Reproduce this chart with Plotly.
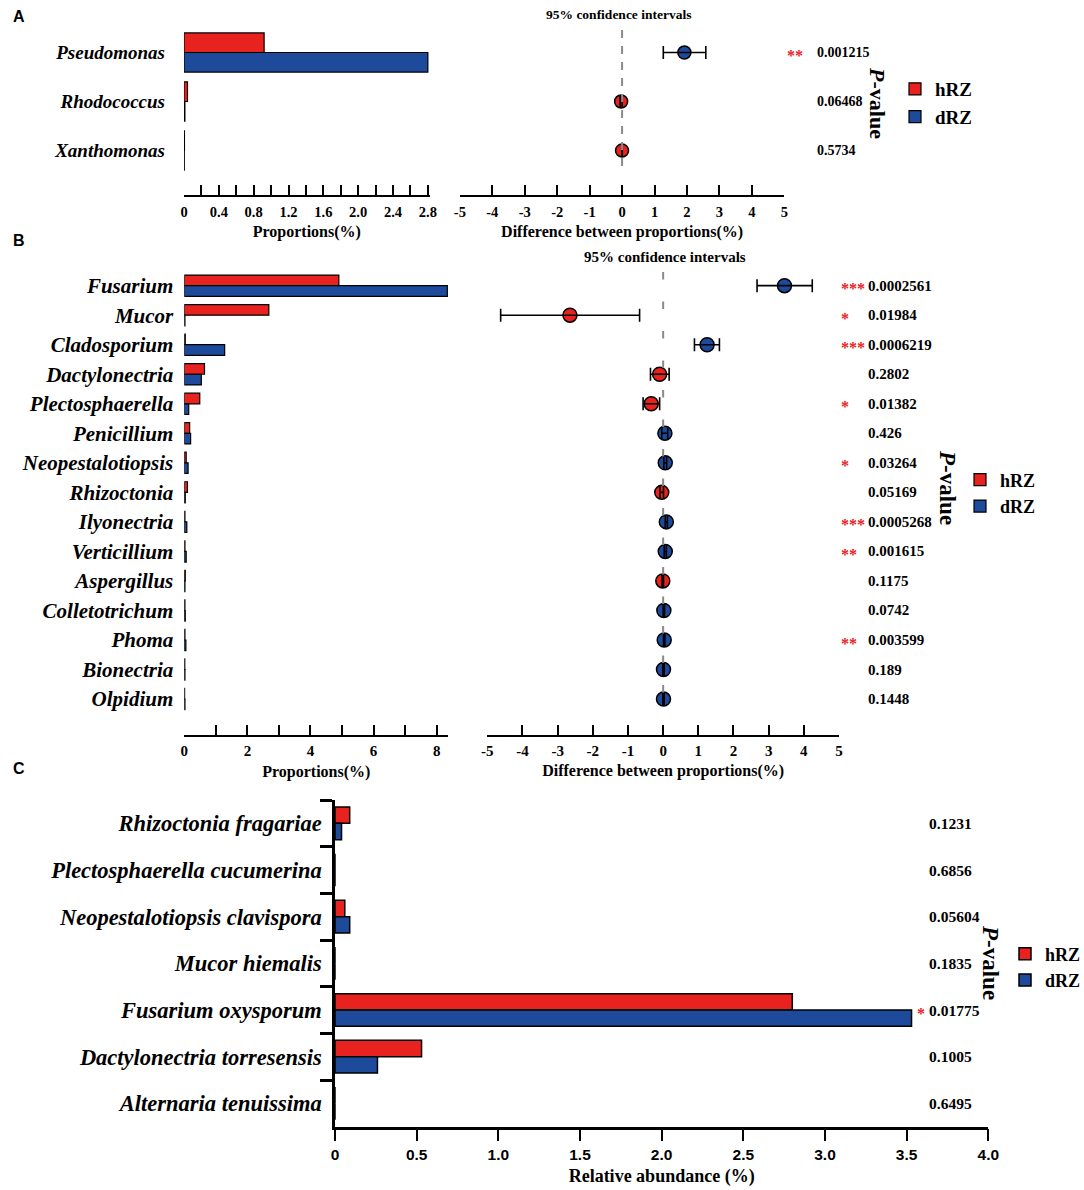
import plotly.graph_objects as go

# ---------------- data ----------------
genera_A = ["Pseudomonas", "Rhodococcus", "Xanthomonas"]
hRZ_A = [0.92, 0.04, 0.005]
dRZ_A = [2.80, 0.01, 0.003]
diff_A = [1.92, -0.03, -0.002]
ci_low_A = [1.27, -0.06, -0.01]
ci_high_A = [2.58, 0.0, 0.006]
p_A = ["0.001215", "0.06468", "0.5734"]
stars_A = ["**", "", ""]

genera_B = ["Fusarium", "Mucor", "Cladosporium", "Dactylonectria", "Plectosphaerella",
            "Penicillium", "Neopestalotiopsis", "Rhizoctonia", "Ilyonectria", "Verticillium",
            "Aspergillus", "Colletotrichum", "Phoma", "Bionectria", "Olpidium"]
hRZ_B = [4.90, 2.68, 0.03, 0.64, 0.49, 0.17, 0.06, 0.10, 0.02, 0.02, 0.03, 0.02, 0.02, 0.015, 0.01]
dRZ_B = [8.34, 0.02, 1.28, 0.54, 0.14, 0.20, 0.12, 0.03, 0.08, 0.06, 0.02, 0.03, 0.05, 0.02, 0.02]
diff_B = [3.45, -2.65, 1.25, -0.10, -0.34, 0.05, 0.06, -0.04, 0.09, 0.06, -0.01, 0.02, 0.03, 0.01, 0.01]
ci_low_B = [2.67, -4.62, 0.89, -0.36, -0.57, -0.04, 0.02, -0.09, 0.06, 0.03, -0.03, 0.0, 0.01, -0.01, -0.01]
ci_high_B = [4.24, -0.67, 1.60, 0.17, -0.10, 0.13, 0.10, 0.01, 0.12, 0.09, 0.01, 0.04, 0.05, 0.03, 0.03]
p_B = ["0.0002561", "0.01984", "0.0006219", "0.2802", "0.01382", "0.426", "0.03264", "0.05169",
       "0.0005268", "0.001615", "0.1175", "0.0742", "0.003599", "0.189", "0.1448"]
stars_B = ["***", "*", "***", "", "*", "", "*", "", "***", "**", "", "", "**", "", ""]

species_C = ["Rhizoctonia fragariae", "Plectosphaerella cucumerina", "Neopestalotiopsis clavispora",
             "Mucor hiemalis", "Fusarium oxysporum", "Dactylonectria torresensis", "Alternaria tenuissima"]
hRZ_C = [0.09, 0.0, 0.06, 0.0, 2.80, 0.53, 0.0]
dRZ_C = [0.04, 0.0, 0.09, 0.0, 3.53, 0.26, 0.0]
p_C = ["0.1231", "0.6856", "0.05604", "0.1835", "0.01775", "0.1005", "0.6495"]
stars_C = ["", "", "", "", "*", "", ""]

propA_tickvals = [0, 0.4, 0.8, 1.2, 1.6, 2.0, 2.4, 2.8]
propA_ticktext = ["0", "0.4", "0.8", "1.2", "1.6", "2.0", "2.4", "2.8"]
propB_tickvals = [0, 2, 4, 6, 8]
propB_ticktext = ["0", "2", "4", "6", "8"]
diff_tickvals = [-5, -4, -3, -2, -1, 0, 1, 2, 3, 4, 5]
diff_ticktext = ["-5", "-4", "-3", "-2", "-1", "0", "1", "2", "3", "4", "5"]
abund_tickvals = [0, 0.5, 1.0, 1.5, 2.0, 2.5, 3.0, 3.5, 4.0]
abund_ticktext = ["0", "0.5", "1.0", "1.5", "2.0", "2.5", "3.0", "3.5", "4.0"]

# ---------------- style ----------------
W, H = 1084, 1190
RED = "#E8221E"
BLUE = "#1E4A9C"
SERIF = "Liberation Serif"
SANS = "Liberation Sans"


def X(px):
    return px / W


def Y(py):
    return 1 - py / H


fig = go.Figure()


# ---- bars ----
def add_bars(cats, h, d, xa, ya, leg, w, lw):
    fig.add_trace(go.Bar(y=cats, x=h, orientation="h", name="hRZ", width=w, offset=-w,
                         marker=dict(color=RED, line=dict(color="black", width=lw)),
                         xaxis=xa, yaxis=ya, legend=leg, legendgroup=leg + "h"))
    fig.add_trace(go.Bar(y=cats, x=d, orientation="h", name="dRZ", width=w, offset=0,
                         marker=dict(color=BLUE, line=dict(color="black", width=lw)),
                         xaxis=xa, yaxis=ya, legend=leg, legendgroup=leg + "d"))


add_bars(genera_A, hRZ_A, dRZ_A, "x", "y", "legend", 0.4, 1.2)
add_bars(genera_B, hRZ_B, dRZ_B, "x3", "y2", "legend2", 0.36, 1.2)
add_bars(species_C, hRZ_C, dRZ_C, "x5", "y3", "legend3", 0.35, 1.5)


# ---- difference points with CI ----
def add_diff(cats, diff, lo, hi, xa, ya, size, cap):
    cols = [BLUE if v > 0 else RED for v in diff]
    plus = [b - v for v, b in zip(diff, hi)]
    minus = [v - a for v, a in zip(diff, lo)]
    fig.add_trace(go.Scatter(x=diff, y=cats, mode="markers", xaxis=xa, yaxis=ya, showlegend=False,
                             marker=dict(size=size, color=cols, line=dict(color="black", width=1.5))))
    fig.add_trace(go.Scatter(x=diff, y=cats, mode="markers", xaxis=xa, yaxis=ya, showlegend=False,
                             marker=dict(size=1, color="rgba(0,0,0,0)"),
                             error_x=dict(type="data", symmetric=False, array=plus, arrayminus=minus,
                                          color="black", thickness=1.6, width=cap)))


add_diff(genera_A, diff_A, ci_low_A, ci_high_A, "x2", "y", 13, 6.5)
add_diff(genera_B, diff_B, ci_low_B, ci_high_B, "x4", "y2", 14, 6.5)

# ---- axes ----
tick_serif = dict(family=SERIF, size=15, color="black", weight="bold")
title_serif = dict(family=SERIF, size=16, color="black", weight="bold")


def lin_axis(domain, rng, anchor, tv, tt, title, ticks="inside", minor=None, tfont=tick_serif,
             tifont=title_serif, lw=2, standoff=4, lstand=0, tlen=10):
    ax = dict(domain=domain, range=rng, anchor=anchor, showline=True, linecolor="black", linewidth=lw,
              ticks=ticks, ticklen=tlen, tickwidth=2, tickcolor="black", tickmode="array",
              tickvals=tv, ticktext=tt, showgrid=False, zeroline=False, tickfont=tfont,
              ticklabelstandoff=lstand,
              title=dict(text=title, font=tifont, standoff=standoff), fixedrange=True)
    if minor is not None:
        ax["minor"] = dict(dtick=minor, tick0=0, ticks=ticks, ticklen=tlen, tickwidth=2,
                           tickcolor="black", showgrid=False)
    return ax


def cat_axis(domain, rng, anchor, cats, size, standoff):
    return dict(domain=domain, range=rng, anchor=anchor, type="category", categoryarray=cats,
                categoryorder="array", showline=False, ticks="", showgrid=False, zeroline=False,
                tickfont=dict(family=SERIF, size=size, color="black", weight="bold", style="italic"),
                ticklabelstandoff=standoff, fixedrange=True)


tick_A = dict(family=SERIF, size=14.5, color="black", weight="bold")

fig.update_layout(
    xaxis=lin_axis([X(184), X(429.6)], [0, 2.82], "y", propA_tickvals, propA_ticktext,
                   "Proportions(%)", minor=0.2, tfont=tick_A, standoff=6, lstand=3),
    xaxis2=lin_axis([X(459.9), X(784.3)], [-5, 5], "y", diff_tickvals, diff_ticktext,
                    "Difference between proportions(%)", tfont=tick_A, standoff=6, lstand=3),
    yaxis=cat_axis([Y(195), Y(28)], [2.908, -0.5], "x", genera_A, 19, 18),
    xaxis3=lin_axis([X(184.3), X(448.3)], [0, 8.37], "y2", propB_tickvals, propB_ticktext,
                    "Proportions(%)", minor=1, standoff=8, lstand=1),
    xaxis4=lin_axis([X(487.3), X(839)], [-5, 5], "y2", diff_tickvals, diff_ticktext,
                    "Difference between proportions(%)", standoff=7, lstand=1),
    yaxis2=cat_axis([Y(734.5), Y(270.9)], [15.2, -0.5], "x3", genera_B, 21, 10),
    xaxis5=lin_axis([X(335), X(988.3)], [0, 4], "y3", abund_tickvals, abund_ticktext,
                    "Relative abundance (%)", ticks="outside", tlen=12,
                    tfont=dict(family=SANS, size=15.5, color="black", weight="bold"),
                    tifont=dict(family=SERIF, size=18, color="black", weight="bold"), lw=2.5,
                    standoff=8, lstand=0),
    yaxis3=dict(domain=[Y(1126.7), Y(800)], range=[6.5, -0.5], anchor="x5", type="category",
                categoryarray=species_C, categoryorder="array", showline=True, linecolor="black",
                linewidth=2.5, ticks="outside", ticklen=12, tickwidth=2.5, tickcolor="black",
                tickson="boundaries", showgrid=False, zeroline=False, fixedrange=True,
                tickfont=dict(family=SERIF, size=22.5, color="black", weight="bold", style="italic"),
                ticklabelstandoff=6),
)

# ---- dashed zero lines ----
fig.add_shape(type="line", xref="x2", yref="paper", x0=0, x1=0, y0=Y(30), y1=Y(174),
              line=dict(color="#8a8a8a", width=2, dash="8px,8px"), layer="above")
fig.add_shape(type="line", xref="x4", yref="paper", x0=0, x1=0, y0=Y(272), y1=Y(714),
              line=dict(color="#8a8a8a", width=2, dash="7.5px,22px"), layer="above")

# ---- annotations ----
ann = []


def txt(x, y, text, size, xanchor="center", yref="paper", family=SERIF, color="black",
        angle=0, yshift=0, weight="bold", yanchor="middle"):
    ann.append(dict(x=x, y=y, xref="paper", yref=yref, text=text, showarrow=False,
                    xanchor=xanchor, yanchor=yanchor, textangle=angle, yshift=yshift,
                    font=dict(family=family, size=size, color=color, weight=weight)))


txt(X(11), Y(6), "A", 16, xanchor="left", family=SANS, yanchor="top")
txt(X(11), Y(241), "B", 16, xanchor="left", family=SANS)
txt(X(11), Y(768), "C", 16, xanchor="left", family=SANS)

txt(X(618), Y(15), "95% confidence intervals", 13.5)
txt(X(665), Y(257), "95% confidence intervals", 15)

for cats, ps, st, yref, xs, xp, fs in [
    (genera_A, p_A, stars_A, "y", 785, 815, 14),
    (genera_B, p_B, stars_B, "y2", 839, 866, 15),
    (species_C, p_C, stars_C, "y3", 915, 927, 15.5),
]:
    for c, p, s in zip(cats, ps, st):
        txt(X(xp), c, p, fs, xanchor="left", yref=yref)
        if s:
            txt(X(xs), c, s, 16, xanchor="left", yref=yref, color=RED, yshift=-3)

txt(X(878), Y(103), "<i>P</i>-value", 22, angle=90)
txt(X(948), Y(487), "<i>P</i>-value", 23, angle=90)
txt(X(991), Y(962), "<i>P</i>-value", 23, angle=90)

leg_common = dict(xanchor="left", yanchor="middle", bgcolor="rgba(0,0,0,0)", tracegroupgap=6,
                  traceorder="normal")

fig.update_layout(
    annotations=ann,
    barmode="overlay",
    width=W, height=H, autosize=False,
    margin=dict(l=0, r=0, t=0, b=0, autoexpand=False),
    paper_bgcolor="white", plot_bgcolor="white",
    legend=dict(x=X(895), y=Y(103), font=dict(family=SERIF, size=19, color="black", weight="bold"),
                **leg_common),
    legend2=dict(x=X(960), y=Y(493), font=dict(family=SERIF, size=18, color="black", weight="bold"),
                 **leg_common),
    legend3=dict(x=X(1005), y=Y(967), font=dict(family=SERIF, size=18, color="black", weight="bold"),
                 **leg_common),
)

# the page's default 8px body margin would push the fixed-size figure out of the window
fig.write_html("out.html", config={"displayModeBar": False},
               post_script="document.body.style.margin='0px';")
